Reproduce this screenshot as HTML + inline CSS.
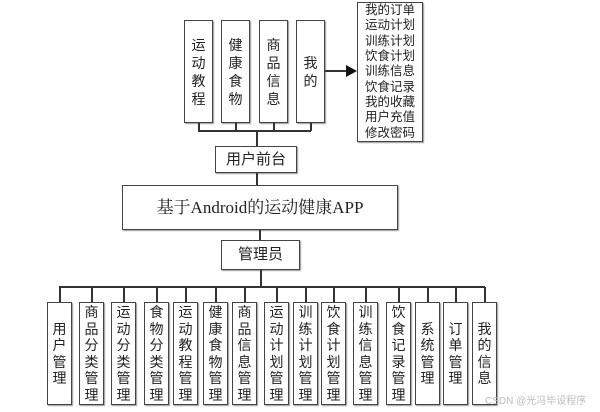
<!DOCTYPE html>
<html><head><meta charset="utf-8"><style>
body{margin:0;width:600px;height:412px;background:#fff;position:relative;overflow:hidden;font-family:"Liberation Sans","Noto Sans CJK SC",sans-serif;color:#222}
.b{position:absolute;border:1.5px solid #444;box-sizing:border-box;background:#fff;display:flex;align-items:center;justify-content:center;text-align:center;font-size:13px;line-height:16px;box-shadow:1px 1px 1px #999}
.l{position:absolute;background:#333}
.v{width:15px;word-break:break-all}
</style></head><body>
<div class="b" style="left:184px;top:20px;width:29px;height:103px;font-size:14px;line-height:18px"><span class="v">运动教程</span></div>
<div class="b" style="left:221px;top:20px;width:29px;height:103px;font-size:14px;line-height:18px"><span class="v">健康食物</span></div>
<div class="b" style="left:259px;top:20px;width:29px;height:103px;font-size:14px;line-height:18px"><span class="v">商品信息</span></div>
<div class="b" style="left:296px;top:20px;width:29px;height:103px;font-size:14px;line-height:18px"><span class="v">我的</span></div>
<div class="l" style="left:198px;top:123px;width:1.5px;height:8px"></div>
<div class="l" style="left:235px;top:123px;width:1.5px;height:8px"></div>
<div class="l" style="left:273px;top:123px;width:1.5px;height:8px"></div>
<div class="l" style="left:310px;top:123px;width:1.5px;height:8px"></div>
<div class="l" style="left:198px;top:130px;width:113px;height:1.5px"></div>
<div class="l" style="left:256px;top:130px;width:1.5px;height:16px"></div>
<div class="l" style="left:325px;top:70px;width:24px;height:2px"></div>
<svg style="position:absolute;left:346px;top:65px" width="12" height="12"><polygon points="0,0 11,6 0,12" fill="#111"/></svg>
<div class="b" style="left:357px;top:2px;width:66px;height:140px;font-size:12.5px;line-height:15.3px"><span>我的订单<br>运动计划<br>训练计划<br>饮食计划<br>训练信息<br>饮食记录<br>我的收藏<br>用户充值<br>修改密码</span></div>
<div class="b" style="left:215px;top:146px;width:82px;height:27px;font-size:15px">用户前台</div>
<div class="l" style="left:256px;top:173px;width:1.5px;height:12px"></div>
<div class="b" style="left:122px;top:185px;width:276px;height:45px;font-size:17px;font-family:'Liberation Serif','Noto Serif CJK SC',serif">基于Android的运动健康APP</div>
<div class="l" style="left:259px;top:230px;width:1.5px;height:10px"></div>
<div class="b" style="left:221px;top:240px;width:79px;height:30px;font-size:15px">管理员</div>
<div class="l" style="left:260px;top:270px;width:2px;height:17px"></div>
<div class="l" style="left:59px;top:286px;width:426px;height:1.5px"></div>
<div id="bot"></div>
<div style="position:absolute;left:485px;top:392px;font-size:10px;color:#bbb">CSDN @光冯毕设程序</div>
<script>
var xs=[47,79,111,144,173,203,232,264,293,321,353,386,415,443,472];
var t=["用户管理","商品分类管理","运动分类管理","食物分类管理","运动教程管理","健康食物管理","商品信息管理","运动计划管理","训练计划管理","饮食计划管理","训练信息管理","饮食记录管理","系统管理","订单管理","我的信息"];
var h="";
for(var i=0;i<xs.length;i++){
h+='<div class="l" style="left:'+(xs[i]+12)+'px;top:287px;width:1.5px;height:15px"></div>';
h+='<div class="b" style="left:'+xs[i]+'px;top:302px;width:25px;height:103px;font-size:14px;line-height:16.5px"><span class="v">'+t[i]+'</span></div>';
}
document.getElementById("bot").innerHTML=h;
</script>
</body></html>
